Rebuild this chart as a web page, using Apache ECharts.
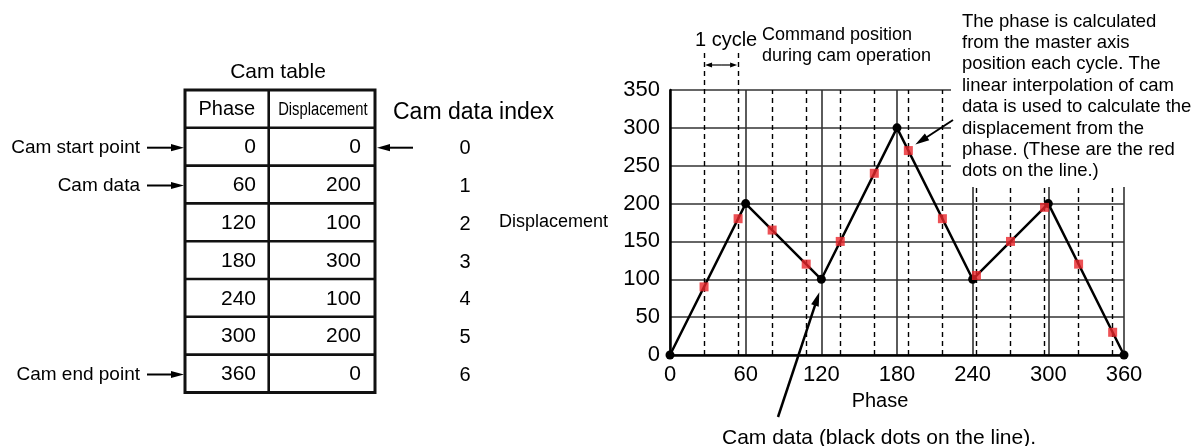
<!DOCTYPE html>
<html>
<head>
<meta charset="utf-8">
<script src="https://cdn.jsdelivr.net/npm/echarts@6/dist/echarts.min.js"></script>
<style>
html,body{margin:0;padding:0;background:#fff;}
#chart{width:1193px;height:446px;}
</style>
</head>
<body>
<div id="chart"></div>
<script>
// cam table (black dots)
var camPhase = [0, 60, 120, 180, 240, 300, 360];
var camDisp = [0, 200, 100, 300, 100, 200, 0];
var camIndex = ['0', '1', '2', '3', '4', '5', '6'];
// command position each cycle (red dots)
var cyclePhase = [27, 54, 81, 108, 135, 162, 189, 216, 243, 270, 297, 324, 351];
var cycleDisp = [90, 180, 165, 120, 150, 240, 270, 180, 105, 150, 195, 120, 30];
var xTicks = [0, 60, 120, 180, 240, 300, 360];
var yTicks = [0, 50, 100, 150, 200, 250, 300, 350];
var rowNotes = ['Cam start point', 'Cam data', '', '', '', '', 'Cam end point'];

var FONT = 'Liberation Sans, Arial, Helvetica, sans-serif';
var chart = echarts.init(document.getElementById('chart'));

var camData = camPhase.map(function (p, i) { return [p, camDisp[i]]; });
var cycleData = cyclePhase.map(function (p, i) { return [p, cycleDisp[i]]; });
var yMax = yTicks[yTicks.length - 1];
var cycleLines = cyclePhase.map(function (p, i) {
	// first two dashed lines run up above the grid to frame "1 cycle"
	return { coords: [[p, 0], [p, i < 2 ? yMax + 50 : yMax]] };
});

var option = {
	animation: false,
	grid: { left: 670, right: 69, top: 90, bottom: 91 },
	xAxis: {
		type: 'value', min: xTicks[0], max: xTicks[xTicks.length - 1], interval: xTicks[1] - xTicks[0],
		axisLine: { lineStyle: { color: '#000', width: 2.5 } },
		axisTick: { show: false },
		splitLine: { show: true, lineStyle: { color: '#333', width: 1.6 } },
		axisLabel: { fontSize: 22, color: '#000', fontFamily: FONT, margin: 9 },
		name: 'Phase', nameLocation: 'middle', nameGap: 36,
		nameTextStyle: { fontSize: 20, color: '#000', fontFamily: FONT, padding: [0, 34, 0, 0] }
	},
	yAxis: {
		type: 'value', min: yTicks[0], max: yMax, interval: yTicks[1] - yTicks[0],
		axisLine: { lineStyle: { color: '#000', width: 2.5 } },
		axisTick: { show: false },
		splitLine: { show: true, lineStyle: { color: '#333', width: 1.6 } },
		axisLabel: { fontSize: 22, color: '#000', fontFamily: FONT, margin: 10 },
		name: 'Displacement', nameLocation: 'middle', nameGap: 62, nameRotate: 0,
		nameTextStyle: { fontSize: 18, color: '#000', fontFamily: FONT, align: 'right', verticalAlign: 'middle', padding: [6, 0, 0, 0] }
	},
	series: [
		{
			type: 'lines', coordinateSystem: 'cartesian2d', clip: false, silent: true, z: 1,
			lineStyle: { color: '#000', width: 1.4, type: [5, 4], opacity: 1 },
			data: cycleLines
		},
		{
			type: 'line', data: camData, z: 3,
			symbol: 'circle', symbolSize: 9, showAllSymbol: true,
			lineStyle: { color: '#000', width: 2.5 },
			itemStyle: { color: '#000' }
		},
		{
			type: 'scatter', data: cycleData, z: 4,
			symbol: 'rect', symbolSize: 9,
			itemStyle: { color: '#e8262a' }
		}
	]
};
chart.setOption(option);

function arrow(x1, y1, x2, y2, lw, hl, hw) {
	var dx = x2 - x1, dy = y2 - y1, L = Math.sqrt(dx * dx + dy * dy);
	var ux = dx / L, uy = dy / L;
	var bx = x2 - ux * hl, by = y2 - uy * hl;
	return [
		{ type: 'line', z: 7, shape: { x1: x1, y1: y1, x2: bx + ux, y2: by + uy }, style: { stroke: '#000', lineWidth: lw } },
		{ type: 'polygon', z: 7, shape: { points: [[x2, y2], [bx - uy * hw, by + ux * hw], [bx + uy * hw, by - ux * hw]] }, style: { fill: '#000' } }
	];
}
function txt(s, x, y, size, align, extra) {
	var st = { text: s, x: x, y: y, fill: '#000', font: size + 'px ' + FONT, align: align || 'left', verticalAlign: 'middle' };
	if (extra) for (var k in extra) st[k] = extra[k];
	return { type: 'text', z: 7, style: st };
}

var els = [];
// cam table
var tL = 185, tM = 268.7, tR = 375, tT = 90, rowH = 37.8;
var nRows = camPhase.length + 1;
els.push({ type: 'rect', shape: { x: tL, y: tT, width: tR - tL, height: rowH * nRows }, style: { fill: 'none', stroke: '#111', lineWidth: 3 } });
els.push({ type: 'line', shape: { x1: tM, y1: tT, x2: tM, y2: tT + rowH * nRows }, style: { stroke: '#111', lineWidth: 2.6 } });
for (var r = 1; r < nRows; r++) {
	els.push({ type: 'line', shape: { x1: tL, y1: tT + rowH * r, x2: tR, y2: tT + rowH * r }, style: { stroke: '#111', lineWidth: 2.6 } });
}
els.push(txt('Cam table', (tL + tR) / 2 - 2, 72, 21, 'center'));
els.push(txt('Phase', (tL + tM) / 2, tT + rowH / 2 + 1, 20, 'center'));
els.push({ type: 'text', x: (tM + tR) / 2 + 1, y: tT + rowH / 2 + 1, scaleX: 0.82,
	style: { text: 'Displacement', x: 0, y: 0, fill: '#000', font: '18px ' + FONT, align: 'center', verticalAlign: 'middle' } });
els.push(txt('Cam data index', 393, 113, 23, 'left'));
camPhase.forEach(function (p, i) {
	var cy = tT + rowH * (i + 1.5) + 1;
	els.push(txt(String(p), 256, cy, 21, 'right'));
	els.push(txt(String(camDisp[i]), 361, cy, 21, 'right'));
	els.push(txt(camIndex[i], 465, cy + 1, 20, 'center'));
	if (rowNotes[i]) {
		els.push(txt(rowNotes[i], 140, cy, 19, 'right'));
		els = els.concat(arrow(147, cy, 184, cy, 2, 13, 3.6));
	}
});
els = els.concat(arrow(413, tT + rowH * 1.5 + 1, 377, tT + rowH * 1.5 + 1, 2, 13, 3.6));

// annotations on the graph
var c0 = chart.convertToPixel({ gridIndex: 0 }, [cyclePhase[0], yMax]);
var c1 = chart.convertToPixel({ gridIndex: 0 }, [cyclePhase[1], yMax]);
els.push(txt('1 cycle', (c0[0] + c1[0]) / 2 + 5, 40, 20, 'center'));
els = els.concat(arrow((c0[0] + c1[0]) / 2, 65, c0[0] + 1, 65, 1.2, 7, 2.5));
els = els.concat(arrow((c0[0] + c1[0]) / 2, 65, c1[0] - 1, 65, 1.2, 7, 2.5));
els.push(txt('Command position\nduring cam operation', 762, 24.5, 18, 'left', { verticalAlign: 'top', lineHeight: 21 }));
// white box behind the explanation text hides the top-right of the grid
els.push({ type: 'rect', z: 6, shape: { x: 951, y: 0, width: 242, height: 187 }, style: { fill: '#fff' } });
els.push(txt('The phase is calculated\nfrom the master axis\nposition each cycle. The\nlinear interpolation of cam\ndata is used to calculate the\ndisplacement from the\nphase. (These are the red\ndots on the line.)',
	962, 11, 18.5, 'left', { verticalAlign: 'top', lineHeight: 21.35 }));
var red = chart.convertToPixel({ gridIndex: 0 }, cycleData[6]);
els = els.concat(arrow(953, 120, red[0] + 7, red[1] - 6, 2, 14, 4));
var blk = chart.convertToPixel({ gridIndex: 0 }, camData[2]);
els = els.concat(arrow(778, 417, blk[0] - 2, blk[1] + 13, 2.5, 14, 4));
els.push(txt('Cam data (black dots on the line).', 879, 438, 21, 'center'));

chart.setOption({ graphic: { elements: els } });
</script>
</body>
</html>
